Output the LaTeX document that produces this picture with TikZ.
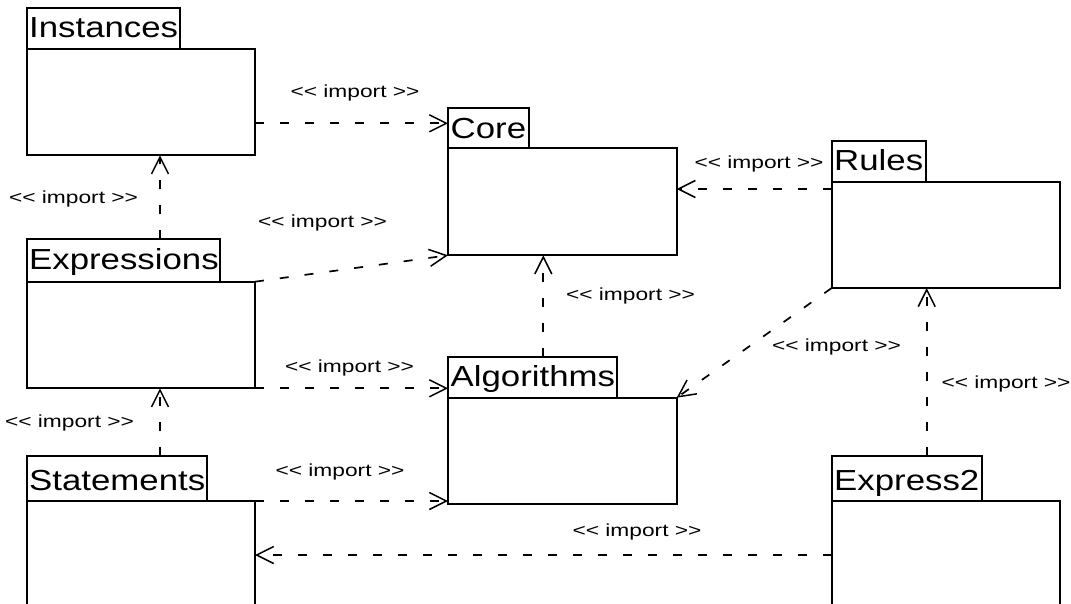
\documentclass[tikz,border=0pt]{standalone}
\usepackage{fontspec}
\setmainfont{Liberation Sans}
\usetikzlibrary{arrows.meta}
\newcommand{\wide}[1]{\scalebox{1.2}[1]{#1}}
\newcommand{\imp}{\scalebox{1.3}[1]{<{}< import >{}>}}
\begin{document}
\begin{tikzpicture}[x=1pt,y=-1pt,
  tabbox/.style={draw,line width=1.9pt,anchor=north west,inner sep=0pt,outer sep=0pt},
  bodybox/.style={draw,line width=1.9pt,anchor=north west,inner sep=0pt,outer sep=0pt},
  pname/.style={anchor=base west,inner sep=0pt,font=\fontsize{29pt}{34pt}\selectfont},
  lbl/.style={anchor=base,inner sep=0pt,font=\fontsize{17.5pt}{20pt}\selectfont},
  dep/.style={line width=1.7pt,dash pattern=on 9pt off 16pt,
    -{Straight Barb[length=17pt,width=17pt,line width=1.5pt]}}]
\useasboundingbox (0,0) rectangle (1071,603);
\clip (0,0) rectangle (1071,603);
% helper coordinates
\coordinate (xl) at (160,0);
\coordinate (xa) at (543.3,0);
\coordinate (xr) at (926.7,0);
\coordinate (yi) at (0,123.3);
\coordinate (yr) at (0,189);
\coordinate (ye) at (0,555);
% Instances
\node[tabbox,minimum width=153.3pt,minimum height=41.3pt] (insttab) at (26.7,7.7) {};
\node[bodybox,minimum width=228.3pt,minimum height=106.3pt] (instbody) at (26.7,49) {};
\node[pname] (insttxt) at (29,37.7) {\wide{Instances}};
% Core
\node[tabbox,minimum width=81pt,minimum height=40.6pt] (coretab) at (448,107.7) {};
\node[bodybox,minimum width=228.7pt,minimum height=107pt] (corebody) at (448,148.3) {};
\node[pname] (coretxt) at (450.5,138.3) {\wide{Core}};
% Rules
\node[tabbox,minimum width=94.3pt,minimum height=41.6pt] (rulestab) at (831.7,140.7) {};
\node[bodybox,minimum width=228.3pt,minimum height=105.7pt] (rulesbody) at (831.7,182.3) {};
\node[pname] (rulestxt) at (834,170.7) {\wide{Rules}};
% Expressions
\node[tabbox,minimum width=193.3pt,minimum height=42.4pt] (exptab) at (26.7,239.3) {};
\node[bodybox,minimum width=228.3pt,minimum height=106.6pt] (expbody) at (26.7,281.7) {};
\node[pname] (exptxt) at (29,269.3) {\wide{Expressions}};
% Algorithms
\node[tabbox,minimum width=169.3pt,minimum height=41pt] (algtab) at (448,356.7) {};
\node[bodybox,minimum width=228.7pt,minimum height=106.3pt] (algbody) at (448,397.7) {};
\node[pname] (algtxt) at (450.5,386) {\wide{Algorithms}};
% Statements
\node[tabbox,minimum width=180pt,minimum height=45.3pt] (sttab) at (26.7,455.7) {};
\node[bodybox,minimum width=228.3pt,minimum height=120pt] (stbody) at (26.7,501) {};
\node[pname] (sttxt) at (29,490) {\wide{Statements}};
% Express2
\node[tabbox,minimum width=150.3pt,minimum height=45pt] (e2tab) at (831.7,456) {};
\node[bodybox,minimum width=228.3pt,minimum height=120pt] (e2body) at (831.7,501) {};
\node[pname] (e2txt) at (834,490) {\wide{Express2}};
% dependencies
\draw[dep] (instbody.east |- yi) -- (coretab.west |- yi);
\draw[dep] (exptab.north -| xl) -- (instbody.south -| xl);
\draw[dep] (expbody.north east) -- (corebody.south west);
\draw[dep] (rulesbody.west |- yr) -- (corebody.east |- yr);
\draw[dep] (algtab.north -| xa) -- (corebody.south -| xa);
\draw[dep] (rulesbody.south west) -- (algbody.north east);
\draw[dep] (e2tab.north -| xr) -- (rulesbody.south -| xr);
\draw[dep] (expbody.south east) -- (expbody.south east -| algtab.west);
\draw[dep] (sttab.north -| xl) -- (expbody.south -| xl);
\draw[dep] (stbody.north east) -- (stbody.north east -| algbody.west);
\draw[dep] (e2body.west |- ye) -- (stbody.east |- ye);
% labels
\node[lbl] (l1) at (355,97) {\imp};
\node[lbl] (l2) at (73.5,203.5) {\imp};
\node[lbl] (l3) at (322.5,227) {\imp};
\node[lbl] (l4) at (759,168.5) {\imp};
\node[lbl] (l5) at (630.5,300) {\imp};
\node[lbl] (l6) at (836.5,351.5) {\imp};
\node[lbl] (l7) at (1006,388) {\imp};
\node[lbl] (l8) at (349.5,372.5) {\imp};
\node[lbl] (l9) at (69.5,427.5) {\imp};
\node[lbl] (l10) at (340,476) {\imp};
\node[lbl] (l11) at (637,536) {\imp};
\end{tikzpicture}
\end{document}
